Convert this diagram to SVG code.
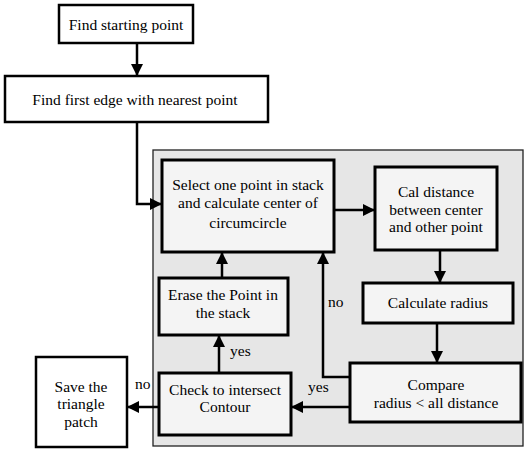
<svg xmlns="http://www.w3.org/2000/svg" width="526" height="450" viewBox="0 0 526 450">
<style>
.box{fill:#fff;stroke:#000;stroke-width:2.5}
.ibox{fill:#f4f4f4;stroke:#000;stroke-width:3}
.t{font-family:Liberation Serif, Times New Roman, Times, serif;font-size:15.5px;fill:#000}
.c{text-anchor:middle}
.ln{fill:none;stroke:#000;stroke-width:2.5}
</style>
<defs>
<marker id="ah" markerWidth="12" markerHeight="12" viewBox="0 0 12 12" refX="12" refY="6" orient="auto" markerUnits="userSpaceOnUse">
<path d="M0,0 L12,6 L0,12 Z" fill="#000"/>
</marker>
</defs>
<rect id="frame" x="153" y="150" width="370" height="296" fill="#e6e6e6" stroke="#222" stroke-width="1.3"/>
<g id="n1"><rect class="box" x="59" y="5" width="134" height="38"/><text class="t c" x="126" y="30">Find starting point</text></g>
<g id="n2"><rect class="box" x="5" y="76" width="263" height="46"/><text class="t c" x="135" y="105">Find first edge with nearest point</text></g>
<g id="n3"><rect class="ibox" x="162" y="160" width="172" height="92"/><text class="t c" x="248" y="190">Select one point in stack</text><text class="t c" x="248" y="208">and calculate center of</text><text class="t c" x="248" y="228">circumcircle</text></g>
<g id="n4"><rect class="ibox" x="375" y="167" width="122" height="83"/><text class="t c" x="436" y="197">Cal distance</text><text class="t c" x="436" y="215">between center</text><text class="t c" x="436" y="232">and other point</text></g>
<g id="n5"><rect class="ibox" x="363" y="283" width="150" height="40"/><text class="t c" x="438" y="308">Calculate radius</text></g>
<g id="n6"><rect class="ibox" x="350" y="363" width="171" height="59"/><text class="t c" x="436" y="390">Compare</text><text class="t c" x="436" y="408">radius &lt; all distance</text></g>
<g id="n7"><rect class="ibox" x="159" y="373" width="132" height="62"/><text class="t c" x="225" y="395">Check to intersect</text><text class="t c" x="225" y="412">Contour</text></g>
<g id="n8"><rect class="ibox" x="159" y="278" width="129" height="57"/><text class="t c" x="223" y="300">Erase the Point in</text><text class="t c" x="223" y="318">the stack</text></g>
<g id="n9"><rect class="box" x="36" y="357" width="91" height="90"/><text class="t c" x="81" y="392">Save the</text><text class="t c" x="81" y="409">triangle</text><text class="t c" x="81" y="427">patch</text></g>
<g id="connectors">
<path class="ln" d="M137,43 V76" marker-end="url(#ah)"/>
<path class="ln" d="M137,122 V204 H162" marker-end="url(#ah)"/>
<path class="ln" d="M334,210 H375" marker-end="url(#ah)"/>
<path class="ln" d="M440,250 V283" marker-end="url(#ah)"/>
<path class="ln" d="M437,323 V363" marker-end="url(#ah)"/>
<path class="ln" d="M350,377 H323 V252" marker-end="url(#ah)"/>
<path class="ln" d="M350,407 H291" marker-end="url(#ah)"/>
<path class="ln" d="M219,373 V335" marker-end="url(#ah)"/>
<path class="ln" d="M222,278 V252" marker-end="url(#ah)"/>
<path class="ln" d="M159,407 H127" marker-end="url(#ah)"/>
<text class="t" x="328" y="307">no</text>
<text class="t" x="308" y="392">yes</text>
<text class="t" x="230" y="356">yes</text>
<text class="t" x="135" y="389">no</text>
</g>
</svg>
